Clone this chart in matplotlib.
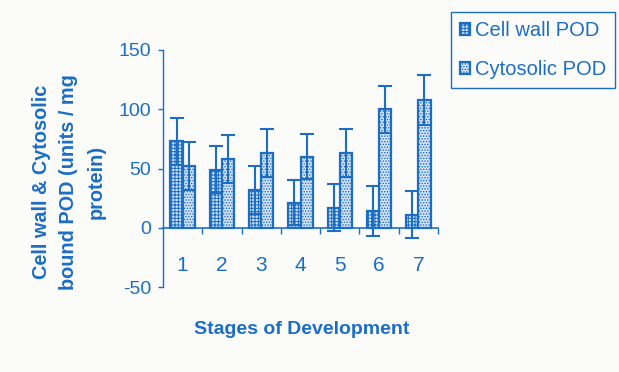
import numpy as np
import matplotlib
matplotlib.use('Agg')
import matplotlib.pyplot as plt
from matplotlib.ticker import FixedLocator

# values (mean and SD)
stages = ['1', '2', '3', '4', '5', '6', '7']
cell_wall = [73, 49, 32, 21, 17, 14, 11]
cell_wall_sd = [20, 20, 20, 19, 20, 21, 20]
cytosolic = [52, 58, 63, 60, 63, 100, 108]
cytosolic_sd = [20, 20, 20, 19, 20, 20, 21]

blue = '#1c6ec4'
plt.rcParams['font.family'] = ['Liberation Sans', 'DejaVu Sans']
plt.rcParams['axes.unicode_minus'] = False
plt.rcParams['hatch.linewidth'] = 0.7
plt.rcParams['hatch.color'] = blue

fig = plt.figure(figsize=(6.19, 3.72), dpi=100, facecolor='#fbfbfa')
ax = fig.add_axes([163/619, 1 - 287/372, 275/619, 237/372])
ax.set_facecolor('none')

x = np.arange(len(stages))
w = 0.31

b1 = ax.bar(x - w/2, cell_wall, w, facecolor='#cfdff3', edgecolor=blue,
            linewidth=1.6, hatch='+++++', label='Cell wall POD', zorder=2)
b2 = ax.bar(x + w/2, cytosolic, w, facecolor='#d3e2f4', edgecolor=blue,
            linewidth=1.6, hatch='......', label='Cytosolic POD', zorder=2)
ax.errorbar(x - w/2, cell_wall, yerr=cell_wall_sd, fmt='none', ecolor=blue,
            elinewidth=1.5, capsize=4.7, capthick=1.5, zorder=3)
ax.errorbar(x + w/2, cytosolic, yerr=cytosolic_sd, fmt='none', ecolor=blue,
            elinewidth=1.5, capsize=4.7, capthick=1.5, zorder=3)

ax.set_xlim(-0.5, 6.5)
ax.set_ylim(-50, 150)
ax.set_yticks([-50, 0, 50, 100, 150])

for s in ['top', 'right']:
    ax.spines[s].set_visible(False)
ax.spines['bottom'].set_position(('data', 0))
ax.spines['left'].set_color(blue)
ax.spines['bottom'].set_color(blue)
ax.spines['left'].set_linewidth(1.0)
ax.spines['bottom'].set_linewidth(1.2)

ax.set_xticks(x)
ax.set_xticklabels(stages)
ax.xaxis.set_minor_locator(FixedLocator(np.arange(0.5, 7, 1)))
ax.tick_params(axis='x', which='major', length=0, pad=20, labelsize=15,
               labelcolor=blue)
ax.tick_params(axis='x', which='minor', length=4, width=1, color=blue,
               direction='out')
ax.tick_params(axis='y', length=3.5, width=1, color=blue, pad=5,
               labelsize=14, labelcolor=blue)

ax.set_ylabel('Cell wall & Cytosolic\nbound POD (units / mg\nprotein)',
              fontsize=14.3, fontweight='bold', color=blue, linespacing=1.55,
              multialignment='center')
ax.yaxis.set_label_coords(-0.21, 0.443)
ax.set_xlabel('Stages of Development', fontsize=14, fontweight='bold',
              color=blue)
ax.xaxis.set_label_coords(0.505, -0.145)

leg = ax.legend(handles=[b1, b2], loc='upper right',
                bbox_to_anchor=(615/619, 1 - 12/372),
                bbox_transform=fig.transFigure, borderaxespad=0,
                fontsize=14.5, handlelength=0.5, handleheight=0.5,
                handletextpad=0.25, labelspacing=1.0, borderpad=0.45,
                fancybox=False, framealpha=1)
leg.get_frame().set_edgecolor(blue)
leg.get_frame().set_linewidth(1.0)
leg.get_frame().set_facecolor('#fbfbfa')
for t in leg.get_texts():
    t.set_color(blue)

fig.savefig('out.png', dpi=100, facecolor=fig.get_facecolor())
